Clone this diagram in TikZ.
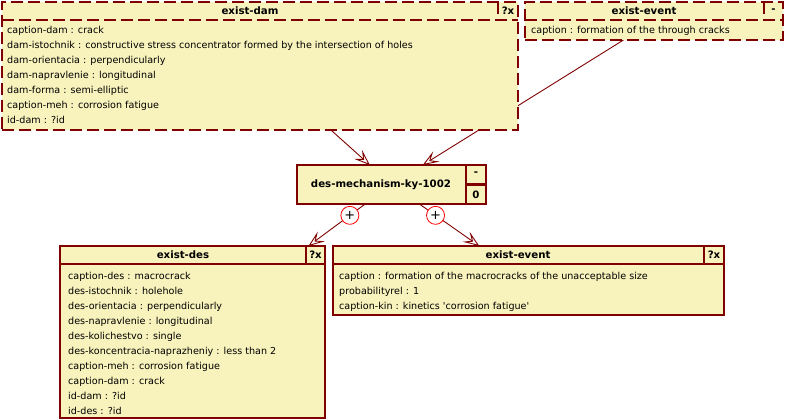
\documentclass[tikz,border=0pt]{standalone}
\usepackage{fontspec}
\setmainfont{DejaVu Sans}[Ligatures=TeXOff]
\newfontfamily\titlefont{DejaVu Sans}
\usetikzlibrary{arrows.meta,backgrounds}
\definecolor{boxfill}{RGB}{248,242,188}
\definecolor{boxline}{RGB}{128,0,0}
\begin{document}
\begin{tikzpicture}[x=1pt,y=-1pt, font=\fontsize{9.6}{11}\selectfont,
  box/.style={draw=boxline, fill=boxfill, line width=1.5pt, anchor=north west, inner sep=0pt, outer sep=0pt},
  dbox/.style={box, dash pattern=on 12pt off 5pt},
  sepline/.style={draw=boxline, line width=1.5pt},
  dsepline/.style={sepline, dash pattern=on 12pt off 5pt},
  attr/.style={anchor=base west, inner sep=0pt},
  ttl/.style={font=\titlefont\bfseries\fontsize{10.2}{12}\selectfont, inner sep=0pt},
  link/.style={draw=boxline, line width=0.9pt, -{Stealth[open, length=16pt, width=12pt, inset=7pt]}},
  plus/.style={circle, draw=red, fill=white, minimum size=18pt, inner sep=0pt, line width=0.8pt, font=\fontsize{13}{13}\selectfont}]

\useasboundingbox (0,0) rectangle (785,420);

% exist-dam
\node[dbox, minimum width=516pt, minimum height=128pt] (dam) at (2,2) {};
\draw[dsepline] (2,20) -- (518,20);
\draw[dsepline] (498,2) -- (498,20);
\node[ttl] (damt) at (250,11) {exist-dam};
\node[ttl] (damq) at (508,11) {?x};
\foreach \t [count=\i] in {caption-dam : crack,
  dam-istochnik : constructive stress concentrator formed by the intersection of holes,
  dam-orientacia : perpendicularly,
  dam-napravlenie : longitudinal,
  dam-forma : semi-elliptic,
  caption-meh : corrosion fatigue,
  id-dam : ?id}
  \node[attr] (dam\i) at (7,{34+15*(\i-1)}) {\t};

% exist-event (top)
\node[dbox, minimum width=258pt, minimum height=38pt] (evt) at (525,2) {};
\draw[dsepline] (525,20) -- (783,20);
\draw[dsepline] (764,2) -- (764,20);
\node[ttl] (evtt) at (644,11) {exist-event};
\node[ttl] (evtq) at (773.5,11) {-};
\node[attr] (evt1) at (531,34) {caption : formation of the through cracks};

% des-mechanism
\node[box, line width=2.5pt, minimum width=189pt, minimum height=39pt] (mech) at (297,165) {};
\draw[sepline, line width=2.5pt] (466,165) -- (466,204);
\draw[sepline, line width=2.5pt] (466,184.5) -- (486,184.5);
\node[ttl] (mecht) at (381,185) {des-mechanism-ky-1002};
\node[ttl] (mechm) at (476,174) {-};
\node[ttl] (mech0) at (476,195) {0};

% exist-des
\node[box, minimum width=265pt, minimum height=172pt] (des) at (60,246) {};
\draw[sepline] (60,264) -- (325,264);
\draw[sepline] (306,246) -- (306,264);
\node[ttl] (dest) at (183,255) {exist-des};
\node[ttl] (desq) at (315.5,255) {?x};
\foreach \t [count=\i] in {caption-des : macrocrack,
  des-istochnik : holehole,
  des-orientacia : perpendicularly,
  des-napravlenie : longitudinal,
  des-kolichestvo : single,
  des-koncentracia-naprazheniy : less than 2,
  caption-meh : corrosion fatigue,
  caption-dam : crack,
  id-dam : ?id,
  id-des : ?id}
  \node[attr] (des\i) at (68,{279+15*(\i-1)}) {\t};

% exist-event (bottom)
\node[box, minimum width=391pt, minimum height=69pt] (ev2) at (333,246) {};
\draw[sepline] (333,264) -- (724,264);
\draw[sepline] (704,246) -- (704,264);
\node[ttl] (ev2t) at (518,255) {exist-event};
\node[ttl] (ev2q) at (714,255) {?x};
\node[attr] (ev21) at (339,279) {caption : formation of the macrocracks of the unacceptable size};
\node[attr] (ev22) at (339,294) {probabilityrel : 1};
\node[attr] (ev23) at (339,309) {caption-kin : kinetics 'corrosion fatigue'};

\begin{pgfonlayer}{background}
\draw[link] (dam) -- (mech);
\draw[link] (evt) -- (mech);
\draw[link] (mech) -- node[plus, pos=0.27] (p1) {+} (des);
\draw[link] (mech) -- node[plus, pos=0.27] (p2) {+} (ev2);
\end{pgfonlayer}
\end{tikzpicture}
\end{document}
